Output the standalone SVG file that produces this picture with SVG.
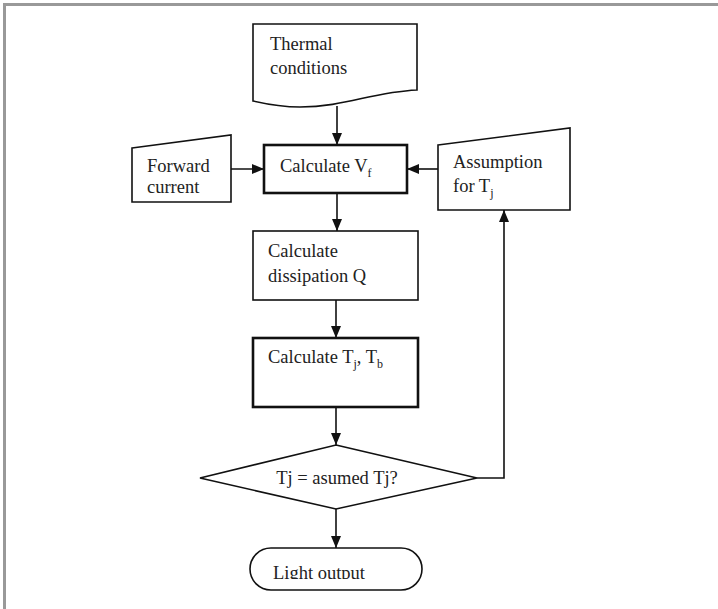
<svg xmlns="http://www.w3.org/2000/svg" width="718" height="609" viewBox="0 0 718 609">
<style>
.shape{fill:#fff;stroke:#111;stroke-width:1.6}
.thick{fill:#fff;stroke:#111;stroke-width:2.6}
.lbl{font-family:"Liberation Serif","Times New Roman",serif;font-size:18.5px;fill:#222}
.sub{font-size:12px}
.conn{fill:none;stroke:#111;stroke-width:1.6}
</style>
<defs>
<marker id="arr" viewBox="0 0 12 10" refX="12" refY="5" markerWidth="12" markerHeight="10" markerUnits="userSpaceOnUse" orient="auto">
<path d="M0,0 L12,5 L0,10 Z" fill="#111"/>
</marker>
<clipPath id="clipLight"><rect x="250" y="548" width="172" height="31"/></clipPath>
</defs>
<rect width="718" height="609" fill="#fff"/>
<rect x="3" y="3" width="715" height="3" fill="#999"/>
<rect x="3" y="3" width="3" height="606" fill="#999"/>

<g id="connectors">
<line class="conn" x1="337" y1="106" x2="337" y2="145" marker-end="url(#arr)"/>
<line class="conn" x1="231" y1="169" x2="264" y2="169" marker-end="url(#arr)"/>
<line class="conn" x1="438" y1="169" x2="407" y2="169" marker-end="url(#arr)"/>
<line class="conn" x1="337" y1="193" x2="337" y2="231" marker-end="url(#arr)"/>
<line class="conn" x1="336" y1="300" x2="336" y2="338" marker-end="url(#arr)"/>
<line class="conn" x1="336" y1="407" x2="336" y2="445" marker-end="url(#arr)"/>
<line class="conn" x1="336" y1="509" x2="336" y2="548" marker-end="url(#arr)"/>
<polyline class="conn" points="477,478 504,478 504,210" marker-end="url(#arr)"/>
</g>

<g id="thermal">
<path class="shape" d="M253,24 H417 V90 C372,92 345,107 300,107 C280,107 266,104 253,101 Z"/>
<text class="lbl" x="270" y="50">Thermal</text>
<text class="lbl" x="270" y="74">conditions</text>
</g>

<g id="forward">
<path class="shape" d="M132,148 L231,135 V202 H132 Z"/>
<text class="lbl" x="147" y="172">Forward</text>
<text class="lbl" x="147" y="193">current</text>
</g>

<g id="calcVf">
<rect class="thick" x="264" y="145" width="143" height="48"/>
<text class="lbl" x="280" y="172">Calculate V<tspan class="sub" dy="5">f</tspan></text>
</g>

<g id="assumption">
<path class="shape" d="M438,145 L570,128 V210 H438 Z"/>
<text class="lbl" x="453" y="168">Assumption</text>
<text class="lbl" x="453" y="192">for T<tspan class="sub" dy="5">j</tspan></text>
</g>

<g id="dissipation">
<rect class="shape" x="253" y="231" width="165" height="69"/>
<text class="lbl" x="268" y="257">Calculate</text>
<text class="lbl" x="268" y="282">dissipation Q</text>
</g>

<g id="calcTj">
<rect class="thick" x="253" y="338" width="165" height="69"/>
<text class="lbl" x="268" y="363">Calculate T<tspan class="sub" dy="5">j</tspan><tspan dy="-5">, T</tspan><tspan class="sub" dy="5">b</tspan></text>
</g>

<g id="decision">
<polygon class="shape" points="336,445 477,478 336,509 200,478"/>
<text class="lbl" x="337" y="484" text-anchor="middle">Tj = asumed Tj?</text>
</g>

<g id="light">
<rect class="shape" x="250" y="548" width="172" height="42" rx="21" ry="21"/>
<text class="lbl" x="273" y="579" clip-path="url(#clipLight)">Light output</text>
</g>
</svg>
